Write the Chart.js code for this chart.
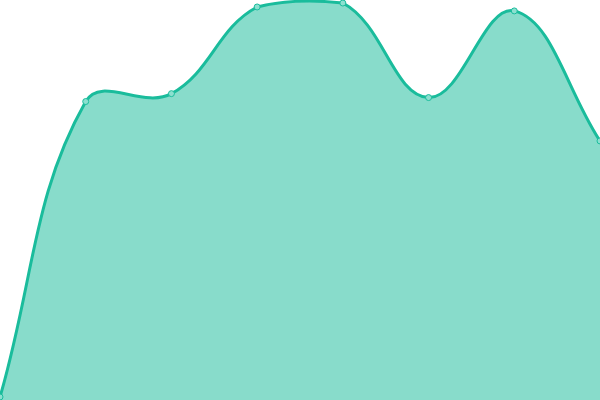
<!DOCTYPE html>
<html>
<head>
<meta charset="utf-8">
<script src="https://cdn.jsdelivr.net/npm/chart.js@4"></script>
<style>
  html, body { margin: 0; padding: 0; background: #fff; }
  .wrap { width: 600px; height: 400px; }
</style>
</head>
<body>
<div class="wrap"><canvas id="areaChart"></canvas></div>
<script>
const labels = ["1", "2", "3", "4", "5", "6", "7", "8"];
const values = [0, 75, 77, 99, 100, 76, 98, 65];

document.addEventListener("DOMContentLoaded", function () {
    const ctx = document.getElementById("areaChart").getContext("2d");

    // small margin so the top/bottom points sit ~3px inside the canvas
    const lo = Math.min(...values);
    const hi = Math.max(...values);
    const pad = (hi - lo) * 0.0077;

    new Chart(ctx, {
        type: "line",
        data: {
            labels: labels,
            datasets: [{
                data: values,
                borderColor: "#1abc9c",
                backgroundColor: "rgba(26, 188, 156, 0.52)",
                fill: "start", // fill down to the bottom edge of the canvas
                tension: 0.4,
                borderWidth: 3,
                pointRadius: 3,
                pointBorderWidth: 1,
                pointBackgroundColor: "#8ce0d0",
                pointBorderColor: "#1abc9c",
            }],
        },
        options: {
            responsive: true,
            maintainAspectRatio: false,
            animation: false,
            layout: { autoPadding: false, padding: 0 },
            scales: {
                x: { display: false },
                y: { display: false, min: lo - pad, max: hi + pad },
            },
            plugins: {
                legend: { display: false },
                tooltip: { enabled: false },
            },
        },
    });
});
</script>
</body>
</html>
